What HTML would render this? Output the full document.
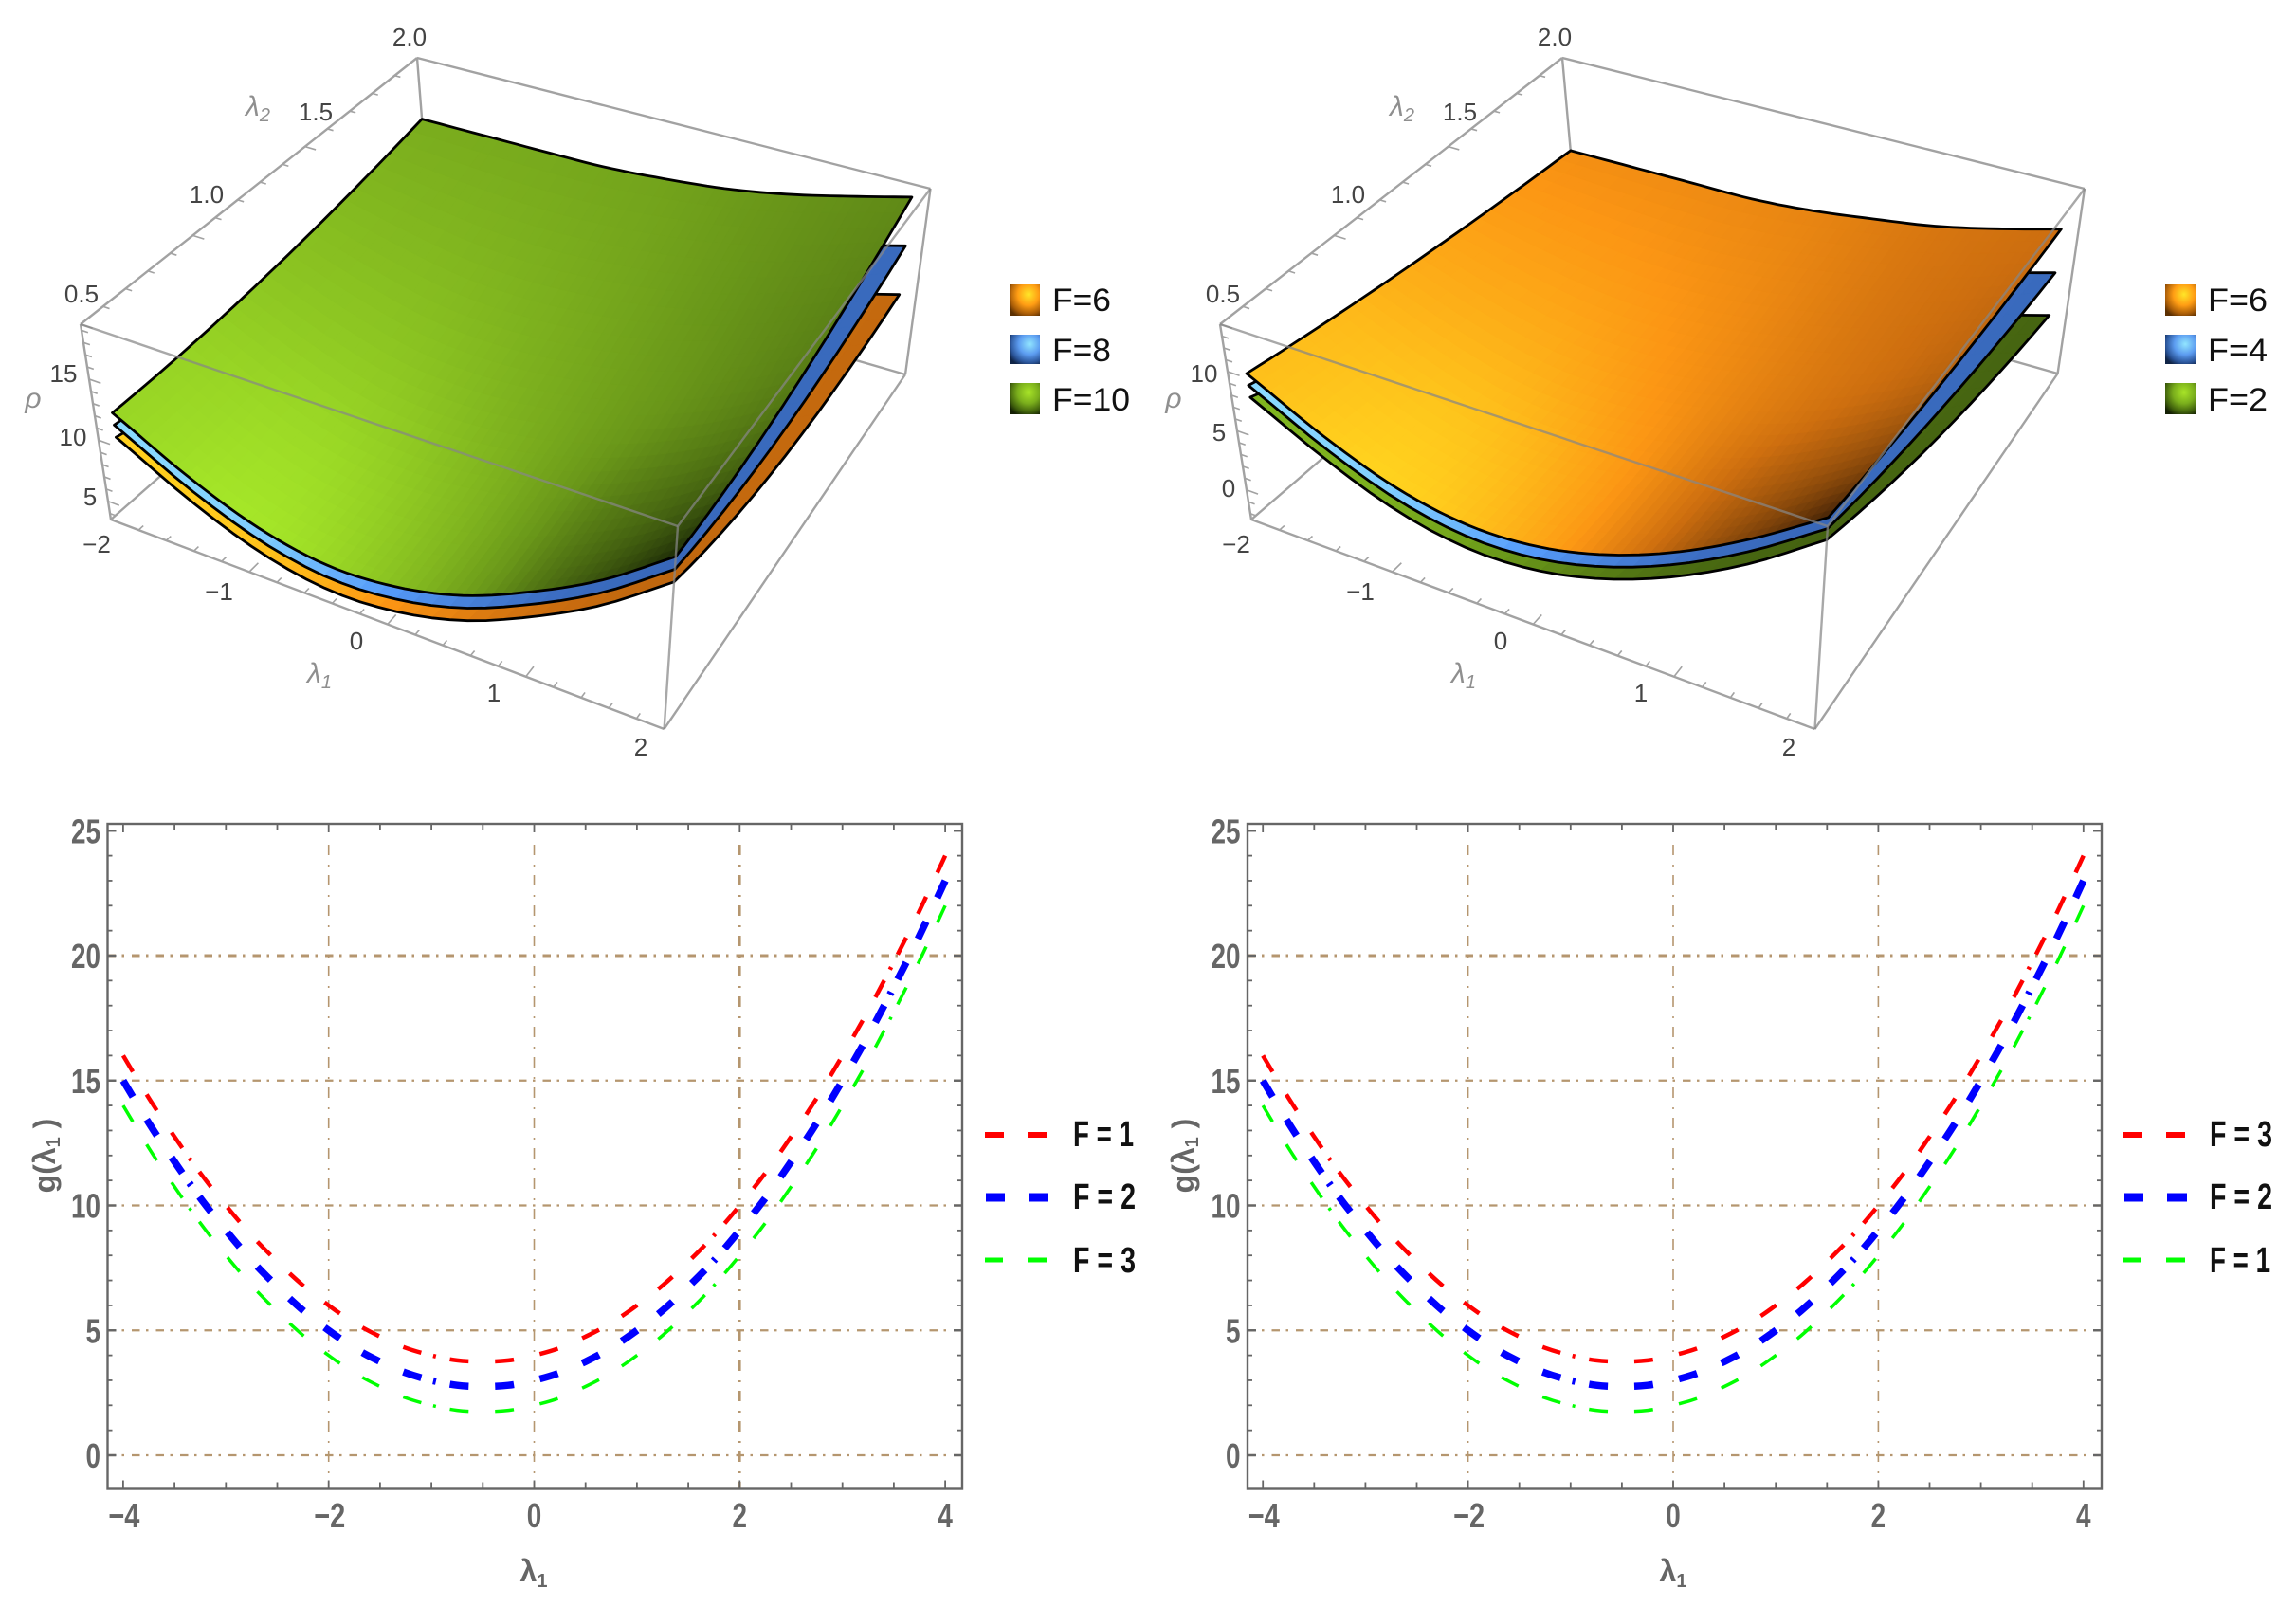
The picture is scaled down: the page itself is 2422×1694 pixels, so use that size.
<!DOCTYPE html>
<html lang="en">
<head>
<meta charset="utf-8">
<title>Surfaces and curves</title>
<style>
html,body{margin:0;padding:0;background:#fff;}
svg{display:block;}
.t3{font:26px "Liberation Sans",sans-serif;fill:#444;text-anchor:middle;}
.tl{font:italic 30px "Liberation Sans",sans-serif;fill:#8f8f8f;text-anchor:middle;}
.sub{font-size:20px;}
.leg3{font:34px "Liberation Sans",sans-serif;fill:#111;}
.leg2{font:bold 38px "Liberation Sans",sans-serif;fill:#111;}
.title2{font:bold 32px "Liberation Sans",sans-serif;fill:#666;text-anchor:middle;}
</style>
</head>
<body>
<svg id="fig" xmlns="http://www.w3.org/2000/svg" width="2422" height="1694" viewBox="0 0 2422 1694">
<defs>
<radialGradient id="swO" cx=".62" cy=".32" r=".78"><stop offset="0" stop-color="#ffe628"/><stop offset=".45" stop-color="#ff9d14"/><stop offset=".8" stop-color="#a85c08"/><stop offset="1" stop-color="#5c3002"/></radialGradient>
<radialGradient id="swB" cx=".66" cy=".32" r=".8"><stop offset="0" stop-color="#92e6ff"/><stop offset=".45" stop-color="#5c9cf0"/><stop offset=".8" stop-color="#2a5498"/><stop offset="1" stop-color="#102446"/></radialGradient>
<radialGradient id="swG" cx=".62" cy=".3" r=".8"><stop offset="0" stop-color="#a8e428"/><stop offset=".45" stop-color="#7aae1c"/><stop offset=".8" stop-color="#3e5e0c"/><stop offset="1" stop-color="#142004"/></radialGradient>
</defs>
<rect width="2422" height="1694" fill="#fff"/>
<g id="p3d1"></g>
<g id="p3d2"></g>
<g id="p2d1"></g>
<g id="p2d2"></g>

<g>
<text class="t3" x="432" y="48">2.0</text>
<text class="t3" x="333" y="127">1.5</text>
<text class="t3" x="218" y="214">1.0</text>
<text class="t3" x="86" y="319">0.5</text>
<text class="tl" x="272" y="122">λ<tspan class="sub" dy="6">2</tspan></text>
<text class="t3" x="67" y="403">15</text>
<text class="t3" x="77" y="470">10</text>
<text class="t3" x="95" y="533">5</text>
<text class="tl" x="35" y="430">ρ</text>
<text class="t3" x="102" y="583">−2</text>
<text class="t3" x="231" y="633">−1</text>
<text class="t3" x="376" y="685">0</text>
<text class="t3" x="521" y="740">1</text>
<text class="t3" x="676" y="797">2</text>
<text class="tl" x="337" y="720">λ<tspan class="sub" dy="6">1</tspan></text>
<rect x="1065" y="300" width="32" height="33" fill="url(#swO)"/>
<text class="leg3" x="1110" y="328" textLength="62" lengthAdjust="spacingAndGlyphs">F=6</text>
<rect x="1065" y="353" width="32" height="31" fill="url(#swB)"/>
<text class="leg3" x="1110" y="381" textLength="62" lengthAdjust="spacingAndGlyphs">F=8</text>
<rect x="1065" y="404" width="32" height="33" fill="url(#swG)"/>
<text class="leg3" x="1110" y="433" textLength="82" lengthAdjust="spacingAndGlyphs">F=10</text>
</g>

<g>
<text class="t3" x="1640" y="48">2.0</text>
<text class="t3" x="1540" y="127">1.5</text>
<text class="t3" x="1422" y="214">1.0</text>
<text class="t3" x="1290" y="319">0.5</text>
<text class="tl" x="1479" y="122">λ<tspan class="sub" dy="6">2</tspan></text>
<text class="t3" x="1270" y="403">10</text>
<text class="t3" x="1286" y="465">5</text>
<text class="t3" x="1296" y="524">0</text>
<text class="tl" x="1238" y="430">ρ</text>
<text class="t3" x="1304" y="583">−2</text>
<text class="t3" x="1435" y="633">−1</text>
<text class="t3" x="1583" y="685">0</text>
<text class="t3" x="1731" y="740">1</text>
<text class="t3" x="1887" y="797">2</text>
<text class="tl" x="1544" y="720">λ<tspan class="sub" dy="6">1</tspan></text>
<rect x="2284" y="300" width="32" height="33" fill="url(#swO)"/>
<text class="leg3" x="2329" y="328" textLength="63" lengthAdjust="spacingAndGlyphs">F=6</text>
<rect x="2284" y="353" width="32" height="31" fill="url(#swB)"/>
<text class="leg3" x="2329" y="381" textLength="63" lengthAdjust="spacingAndGlyphs">F=4</text>
<rect x="2284" y="404" width="32" height="33" fill="url(#swG)"/>
<text class="leg3" x="2329" y="433" textLength="63" lengthAdjust="spacingAndGlyphs">F=2</text>
</g>

<g>
<text class="title2" x="563" y="1668">λ<tspan class="sub" dy="6">1</tspan></text>
<text class="title2" transform="translate(58,1219) rotate(-90)">g(λ<tspan class="sub" dy="5">1</tspan><tspan dy="-5"> )</tspan></text>
<line x1="1039" x2="1059" y1="1197" y2="1197" stroke="#f00" stroke-width="6"/>
<line x1="1084" x2="1104" y1="1197" y2="1197" stroke="#f00" stroke-width="6"/>
<text class="leg2" x="1132" y="1209" textLength="64" lengthAdjust="spacingAndGlyphs">F = 1</text>
<line x1="1040" x2="1060" y1="1263" y2="1263" stroke="#00f" stroke-width="9"/>
<line x1="1085" x2="1106" y1="1263" y2="1263" stroke="#00f" stroke-width="9"/>
<text class="leg2" x="1132" y="1275" textLength="66" lengthAdjust="spacingAndGlyphs">F = 2</text>
<line x1="1039" x2="1058" y1="1329" y2="1329" stroke="#0f0" stroke-width="5"/>
<line x1="1084" x2="1104" y1="1329" y2="1329" stroke="#0f0" stroke-width="5"/>
<text class="leg2" x="1132" y="1342" textLength="66" lengthAdjust="spacingAndGlyphs">F = 3</text>
</g>

<g>
<text class="title2" x="1765" y="1668">λ<tspan class="sub" dy="6">1</tspan></text>
<text class="title2" transform="translate(1259,1219) rotate(-90)">g(λ<tspan class="sub" dy="5">1</tspan><tspan dy="-5"> )</tspan></text>
<line x1="2240" x2="2260" y1="1197" y2="1197" stroke="#f00" stroke-width="6"/>
<line x1="2285" x2="2305" y1="1197" y2="1197" stroke="#f00" stroke-width="6"/>
<text class="leg2" x="2331" y="1209" textLength="66" lengthAdjust="spacingAndGlyphs">F = 3</text>
<line x1="2241" x2="2261" y1="1263" y2="1263" stroke="#00f" stroke-width="9"/>
<line x1="2286" x2="2307" y1="1263" y2="1263" stroke="#00f" stroke-width="9"/>
<text class="leg2" x="2331" y="1275" textLength="66" lengthAdjust="spacingAndGlyphs">F = 2</text>
<line x1="2240" x2="2259" y1="1329" y2="1329" stroke="#0f0" stroke-width="5"/>
<line x1="2285" x2="2305" y1="1329" y2="1329" stroke="#0f0" stroke-width="5"/>
<text class="leg2" x="2331" y="1342" textLength="64" lengthAdjust="spacingAndGlyphs">F = 1</text>
</g>
</svg>

<script>
/* ---------- 3D surface data (rho) ---------- */
const lambda1Grid = [-2, -1.5, -1, -0.5, 0, 0.5, 1, 1.5, 2];
const lambda2Rows = [0.5, 1.25, 2];

const rhoF10Front = [12.8, 9.7, 7.5, 6.5, 6.8, 8.1, 10.4, 13.3, 17.1];
const rhoF10Mid   = [12.6, 10.4, 8.8, 8.3, 8.6, 9.55, 11.15, 13.4, 16.35];
const rhoF10Back  = [14.06, 14.06, 14.06, 14.1, 14.46, 15.0, 15.9, 17.1, 18.4];
const rhoF8Front  = [11.8, 8.7, 6.5, 5.5, 5.8, 7.1, 9.4, 12.3, 16.1];
const rhoF8Mid    = [10.0, 7.8, 6.2, 5.7, 6.0, 6.95, 8.55, 10.8, 13.75];
const rhoF8Back   = [9.86, 9.86, 9.86, 9.9, 10.26, 10.8, 11.7, 12.9, 14.2];
const rhoF6Front  = [10.8, 7.7, 5.5, 4.5, 4.8, 6.1, 8.4, 11.3, 15.1];
const rhoF6Mid    = [7.4, 5.2, 3.6, 3.1, 3.4, 4.35, 5.95, 8.2, 11.15];
const rhoF6Back   = [5.66, 5.66, 5.66, 5.7, 6.06, 6.6, 7.5, 8.7, 10.0];

const rhoBF6Front = [10.4, 7.2, 4.9, 3.9, 4.2, 5.6, 7.9, 11.0, 14.7];
const rhoBF6Mid   = [7.65, 5.65, 4.2, 3.7, 4.05, 5.1, 6.65, 9.0, 11.85];
const rhoBF6Back  = [5.5, 5.5, 5.5, 5.5, 5.9, 6.6, 7.4, 8.6, 10.0];
const rhoBF4Front = [9.4, 6.2, 3.9, 2.9, 3.2, 4.6, 6.9, 10.0, 13.8];
const rhoBF4Mid   = [5.2, 3.2, 1.75, 1.25, 1.6, 2.65, 4.2, 6.55, 9.4];
const rhoBF4Back  = [1.6, 1.6, 1.6, 1.6, 2.0, 2.7, 3.5, 4.7, 6.1];
const rhoBF2Front = [8.4, 5.2, 2.9, 1.9, 2.2, 3.6, 5.9, 9.0, 12.9];
const rhoBF2Mid   = [2.8, 0.8, -0.65, -1.15, -0.8, 0.25, 1.8, 4.15, 7.0];
const rhoBF2Back  = [-2.2, -2.2, -2.2, -2.2, -1.8, -1.1, -0.3, 0.9, 2.3];

const lambda1Ticks = [-2,-1.8,-1.6,-1.4,-1.2,-1,-0.8,-0.6,-0.4,-0.2,0,0.2,0.4,0.6,0.8,1,1.2,1.4,1.6,1.8,2];
const lambda2Ticks = [0.5,0.6,0.7,0.8,0.9,1,1.1,1.2,1.3,1.4,1.5,1.6,1.7,1.8,1.9,2];
const rhoTicksLeft = [4,5,6,7,8,9,10,11,12,13,14,15,16,17,18,19];
const rhoTicksRight = [-2,-1,0,1,2,3,4,5,6,7,8,9,10,11,12,13];

/* ---------- 2D curve data ---------- */
const lambdaSamples = [-4,-3.75,-3.5,-3.25,-3,-2.75,-2.5,-2.25,-2,-1.75,-1.5,-1.25,-1,-0.75,-0.5,-0.25,0,0.25,0.5,0.75,1,1.25,1.5,1.75,2,2.25,2.5,2.75,3,3.25,3.5,3.75,4];
const leftRedValues   = [16,14.3,12.75,11.3,10,8.8,7.75,6.8,6,5.3,4.75,4.3,4,3.8,3.75,3.8,4,4.3,4.75,5.3,6,6.8,7.75,8.8,10,11.3,12.75,14.3,16,17.8,19.75,21.8,24];
const leftBlueValues  = [15,13.3,11.75,10.3,9,7.8,6.75,5.8,5,4.3,3.75,3.3,3,2.8,2.75,2.8,3,3.3,3.75,4.3,5,5.8,6.75,7.8,9,10.3,11.75,13.3,15,16.8,18.75,20.8,23];
const leftGreenValues = [14,12.3,10.75,9.3,8,6.8,5.75,4.8,4,3.3,2.75,2.3,2,1.8,1.75,1.8,2,2.3,2.75,3.3,4,4.8,5.75,6.8,8,9.3,10.75,12.3,14,15.8,17.75,19.8,22];
const rightRedValues   = [16,14.3,12.75,11.3,10,8.8,7.75,6.8,6,5.3,4.75,4.3,4,3.8,3.75,3.8,4,4.3,4.75,5.3,6,6.8,7.75,8.8,10,11.3,12.75,14.3,16,17.8,19.75,21.8,24];
const rightBlueValues  = [15,13.3,11.75,10.3,9,7.8,6.75,5.8,5,4.3,3.75,3.3,3,2.8,2.75,2.8,3,3.3,3.75,4.3,5,5.8,6.75,7.8,9,10.3,11.75,13.3,15,16.8,18.75,20.8,23];
const rightGreenValues = [14,12.3,10.75,9.3,8,6.8,5.75,4.8,4,3.3,2.75,2.3,2,1.8,1.75,1.8,2,2.3,2.75,3.3,4,4.8,5.75,6.8,8,9.3,10.75,12.3,14,15.8,17.75,19.8,22];
const xTickValues = [-4,-3.5,-3,-2.5,-2,-1.5,-1,-0.5,0,0.5,1,1.5,2,2.5,3,3.5,4];
const xTickLabelValues = [-4,-2,0,2,4];
const xTickLabels = ['−4','−2','0','2','4'];
const yTickValues = [0,1,2,3,4,5,6,7,8,9,10,11,12,13,14,15,16,17,18,19,20,21,22,23,24,25];
const yTickLabelValues = [0,5,10,15,20,25];
const yTickLabels = ['0','5','10','15','20','25'];
const xGridValues = [-2,0,2];
const yGridValues = [0,5,10,15,20];

const NS = 'http://www.w3.org/2000/svg';
function mk(tag, parent, attrs){
  const el = document.createElementNS(NS, tag);
  for (const k in attrs) el.setAttribute(k, attrs[k]);
  parent.appendChild(el);
  return el;
}
function lerp(a,b,t){return a+(b-a)*t;}

/* ---------- 3D projection ---------- */
function corner(p,u,v,w){
  function bl(a,b,c,d){
    return [0,1].map(i=>lerp(lerp(a[i],b[i],u),lerp(c[i],d[i],u),v));
  }
  const bot = bl(p.E,p.F,p.H,p.G), top = bl(p.A,p.D,p.B,p.C);
  return [lerp(bot[0],top[0],w),lerp(bot[1],top[1],w)];
}
function project(p,l1,l2,rho){
  const v=(l2-lambda2Rows[0])/(lambda2Rows[2]-lambda2Rows[0]);
  const ui=(l1-lambda1Grid[0])/(lambda1Grid[8]-lambda1Grid[0]);
  const u=.967*ui+.033*(1-v);
  const w=(rho-p.rmin)/(p.rmax-p.rmin);
  return corner(p,u,v,w);
}
function catmull(arr,t){
  const n=arr.length-1;
  const i=Math.min(Math.floor(t),n-1), f=t-i;
  const p1=arr[i],p2=arr[i+1];
  const p0=i>0?arr[i-1]:2*p1-p2;
  const p3=i<n-1?arr[i+2]:2*p2-p1;
  return .5*((2*p1)+(-p0+p2)*f+(2*p0-5*p1+4*p2-p3)*f*f+(-p0+3*p1-3*p2+p3)*f*f*f);
}
function surfRho(rows,s,v){
  const t=s*(rows[0].length-1);
  const a=catmull(rows[0],t),b=catmull(rows[1],t),c=catmull(rows[2],t);
  return a*2*(v-.5)*(v-1)+b*(-4)*v*(v-1)+c*2*v*(v-.5);
}
const shadeTop=[[.9,1,.76,.36,.06],[.88,.92,.72,.42,.26],[.8,.8,.66,.5,.38],[.72,.7,.62,.5,.42],[.64,.62,.58,.5,.45]];
const shadeLow=[[1,.92,.66,.46,.4],[.95,.85,.62,.46,.42],[.85,.75,.58,.46,.42],[.75,.68,.55,.46,.42],[.65,.6,.52,.46,.42]];
function shade(tbl,s,v){
  const col=tbl.map(r=>catmull(r,s*4));
  return catmull(col,v*4);
}
const rampGreen=[[0,[20,30,5]],[.5,[105,150,25]],[1,[165,230,40]]];
const rampBlue=[[0,[15,40,90]],[.45,[60,110,195]],[.68,[85,155,250]],[1,[140,220,255]]];
const rampOrange=[[0,[50,25,5]],[.45,[205,110,15]],[.68,[252,150,20]],[1,[255,210,30]]];
function rampColor(r,t){
  for(let i=1;i<r.length;i++){
    if(t<=r[i][0]||i===r.length-1){
      const f=Math.max(0,Math.min(1,(t-r[i-1][0])/(r[i][0]-r[i-1][0])));
      const c=[0,1,2].map(k=>Math.round(lerp(r[i-1][1][k],r[i][1][k],f)));
      return 'rgb('+c.join(',')+')';
    }
  }
}
function drawSurface(g,p,L,lower){
  const rows=L.rows, ramp=L.ramp, dim=L.dim||1;
  const NU=lower?30:56,NV=lower?14:28;
  const sg=mk('g',g,{});
  
  
  const lam=s=>lambda1Grid[0]+(lambda1Grid[8]-lambda1Grid[0])*s;
  const lv=v=>lambda2Rows[0]+(lambda2Rows[2]-lambda2Rows[0])*v;
  const pt=(s,v)=>project(p,lam(s),lv(v),surfRho(rows,s,v));
  const tbl=lower?shadeLow:shadeTop;
  for(let i=0;i<NU;i++)for(let j=0;j<NV;j++){
    const s0=i/NU,s1=(i+1)/NU,v0=j/NV,v1=(j+1)/NV;
    const q=[pt(s0,v0),pt(s1,v0),pt(s1,v1),pt(s0,v1)];
    const b=shade(tbl,(s0+s1)/2,(v0+v1)/2)*dim;
    const col=rampColor(ramp,b);
    const cell=mk('polygon',sg,{points:q.map(a=>a[0].toFixed(1)+','+a[1].toFixed(1)).join(' '),fill:col,stroke:col,'stroke-width':.8});
    
    
  }
  const edge=[];
  for(let i=0;i<=NU;i++)edge.push(pt(i/NU,0));
  for(let j=1;j<=NV;j++)edge.push(pt(1,j/NV));
  for(let i=NU-1;i>=0;i--)edge.push(pt(i/NU,1));
  for(let j=NV-1;j>0;j--)edge.push(pt(0,j/NV));
  const outline=mk('polygon',sg,{points:edge.map(a=>a[0].toFixed(1)+','+a[1].toFixed(1)).join(' '),fill:'none',stroke:'#000','stroke-width':2.8,'stroke-linejoin':'round'});
  
  
}
function boxLine(g,a,b,op){
  const l=mk('line',g,{x1:a[0],y1:a[1],x2:b[0],y2:b[1],stroke:op?'rgba(135,135,135,.72)':'#a2a2a2','stroke-width':2.4});
  
  
}
function tick3(g,a,b){
  const l=mk('line',g,{x1:a[0],y1:a[1],x2:b[0],y2:b[1],stroke:'#a2a2a2','stroke-width':1.6});
  
  
}
function draw3D(id,p,rhoTicks,layers){
  const g=document.getElementById(id);
  [[p.A,p.B],[p.B,p.C],[p.C,p.G],[p.B,p.H],[p.E,p.H],[p.H,p.G],[p.A,p.E],[p.E,p.F],[p.F,p.G]].forEach(e=>boxLine(g,e[0],e[1],false));
  lambda1Ticks.forEach(t=>{
    const u=(t+2)/4, major=Number.isInteger(t);
    tick3(g,corner(p,u,0,0),corner(p,u,major?.03:.015,0));
  });
  lambda2Ticks.forEach(t=>{
    const v=(t-.5)/1.5, major=Number.isInteger(t*2);
    tick3(g,corner(p,0,v,1),corner(p,major?.02:.011,v,1));
  });
  rhoTicks.forEach(t=>{
    const w=(t-p.rmin)/(p.rmax-p.rmin), major=t%5===0;
    tick3(g,corner(p,0,0,w),corner(p,major?.02:.011,0,w));
  });
  layers.forEach((L,i)=>drawSurface(g,p,L,i<layers.length-1));
  [[p.A,p.D],[p.D,p.C],[p.D,p.F]].forEach(e=>boxLine(g,e[0],e[1],true));
}
const panelLeft={A:[85,342],B:[440,61],C:[981.5,199],D:[715,555],E:[117,548],F:[700.6,769],G:[955,395],H:[455,251],rmin:3.5,rmax:19.5};
const panelRight={A:[1287,342],B:[1648,61],C:[2199,199],D:[1928,555],E:[1320,548],F:[1914.5,769],G:[2170.6,394],H:[1665,251],rmin:-2.5,rmax:14};
draw3D('p3d1',panelLeft,rhoTicksLeft,[
  {rows:[rhoF6Front,rhoF6Mid,rhoF6Back],ramp:rampOrange},
  {rows:[rhoF8Front,rhoF8Mid,rhoF8Back],ramp:rampBlue},
  {rows:[rhoF10Front,rhoF10Mid,rhoF10Back],ramp:rampGreen}
]);
draw3D('p3d2',panelRight,rhoTicksRight,[
  {rows:[rhoBF2Front,rhoBF2Mid,rhoBF2Back],ramp:rampGreen,dim:.7},
  {rows:[rhoBF4Front,rhoBF4Mid,rhoBF4Back],ramp:rampBlue},
  {rows:[rhoBF6Front,rhoBF6Mid,rhoBF6Back],ramp:rampOrange}
]);

/* ---------- 2D charts ---------- */
function fitDash(path,base,offset){
  const L=path.getTotalLength();
  let cum=0,best=null,i=0;
  while(cum<L+offset+400){
    cum+=base[i%base.length];
    if(i%2===0){
      const e=cum-offset;
      if(e>0&&(best===null||Math.abs(e-L)<Math.abs(best-L)))best=e;
    }
    i++;
  }
  const k=L/best;
  path.setAttribute('stroke-dasharray',base.map(b=>(b*k).toFixed(2)).join(' '));
  path.setAttribute('stroke-dashoffset',(offset*k).toFixed(2));
}
const dashBase=[20,28,20,28,20,28,20,28,20,28,20,28,20,13,3,15];
function draw2D(id,c,series){
  const g=document.getElementById(id);
  const X=v=>c.x0+c.sx*v, Y=v=>c.y0-c.sy*v;
  yGridValues.forEach(v=>{
    const l=mk('line',g,{x1:c.left,x2:c.right,y1:Y(v),y2:Y(v),stroke:'#b5966f','stroke-width':v===20?3:2.2,'stroke-dasharray':'8.5 6.5 2.5 8'});
    
    
  });
  xGridValues.forEach(v=>{
    const l=mk('line',g,{x1:X(v),x2:X(v),y1:891,y2:c.bottom,stroke:'#b5966f','stroke-width':(v===2&&c.thickTwo)?2.6:1.6,'stroke-dasharray':'11 10 2 9'});
    
    
  });
  series.forEach(S=>{
    const pts=lambdaSamples.map((x,i)=>[X(x),Y(S.values[i])]);
    let d='M'+pts[0][0].toFixed(1)+' '+pts[0][1].toFixed(1);
    for(let i=0;i<pts.length-1;i++){
      const p0=pts[Math.max(0,i-1)],p1=pts[i],p2=pts[i+1],p3=pts[Math.min(pts.length-1,i+2)];
      d+=' C'+(p1[0]+(p2[0]-p0[0])/6).toFixed(1)+' '+(p1[1]+(p2[1]-p0[1])/6).toFixed(1)+' '+(p2[0]-(p3[0]-p1[0])/6).toFixed(1)+' '+(p2[1]-(p3[1]-p1[1])/6).toFixed(1)+' '+p2[0].toFixed(1)+' '+p2[1].toFixed(1);
    }
    const path=mk('path',g,{d:d,fill:'none',stroke:S.color,'stroke-width':S.width});
    fitDash(path,dashBase,192);
    
    
  });
  const frame=mk('rect',g,{x:c.left,y:c.top,width:c.right-c.left,height:c.bottom-c.top,fill:'none',stroke:'#666','stroke-width':2.4});
  
  
  xTickValues.forEach(v=>{
    const len=Number.isInteger(v/2)?9:7;
    [[c.bottom,c.bottom-len],[c.top,c.top+len]].forEach(e=>{
      const l=mk('line',g,{x1:X(v),x2:X(v),y1:e[0],y2:e[1],stroke:'#666','stroke-width':1.8});
      
      
    });
  });
  yTickValues.forEach(v=>{
    const len=v%5===0?9:5;
    [[c.left,c.left+len],[c.right,c.right-len]].forEach(e=>{
      const l=mk('line',g,{x1:e[0],x2:e[1],y1:Y(v),y2:Y(v),stroke:'#666','stroke-width':v%5===0?2.4:1.8});
      
      
    });
  });
  const tickFont='bold 36px "Liberation Sans",sans-serif';
  xTickLabelValues.forEach((v,i)=>{
    const s=xTickLabels[i], w=s.length>1?33:15.5;
    const t=mk('text',g,{x:X(v)-w/2+(s.length>1?1:0),y:1611,fill:'#666',textLength:w,lengthAdjust:'spacingAndGlyphs'});
    t.style.font=tickFont;
    t.textContent=s;
    
    
  });
  yTickLabelValues.forEach((v,i)=>{
    const s=yTickLabels[i], w=15.5*s.length;
    const t=mk('text',g,{x:c.left-7.5-w,y:Y(v)+13,fill:'#666',textLength:w,lengthAdjust:'spacingAndGlyphs'});
    t.style.font=tickFont;
    t.textContent=s;
    
    
  });
}
draw2D('p2d1',{left:113.5,right:1015,top:869,bottom:1570.5,x0:563.5,sx:108.4,y0:1535,sy:26.35,thickTwo:true},[
  {values:leftRedValues,color:'#f00',width:4.5,name:'curve-f1'},
  {values:leftBlueValues,color:'#00f',width:7.5,name:'curve-f2'},
  {values:leftGreenValues,color:'#0f0',width:3.5,name:'curve-f3'}
]);
draw2D('p2d2',{left:1316,right:2217,top:869,bottom:1570.5,x0:1765,sx:108.2,y0:1535,sy:26.35,thickTwo:false},[
  {values:rightRedValues,color:'#f00',width:4.5,name:'curve-f3'},
  {values:rightBlueValues,color:'#00f',width:7.5,name:'curve-f2'},
  {values:rightGreenValues,color:'#0f0',width:3.5,name:'curve-f1'}
]);
</script>
</body>
</html>
